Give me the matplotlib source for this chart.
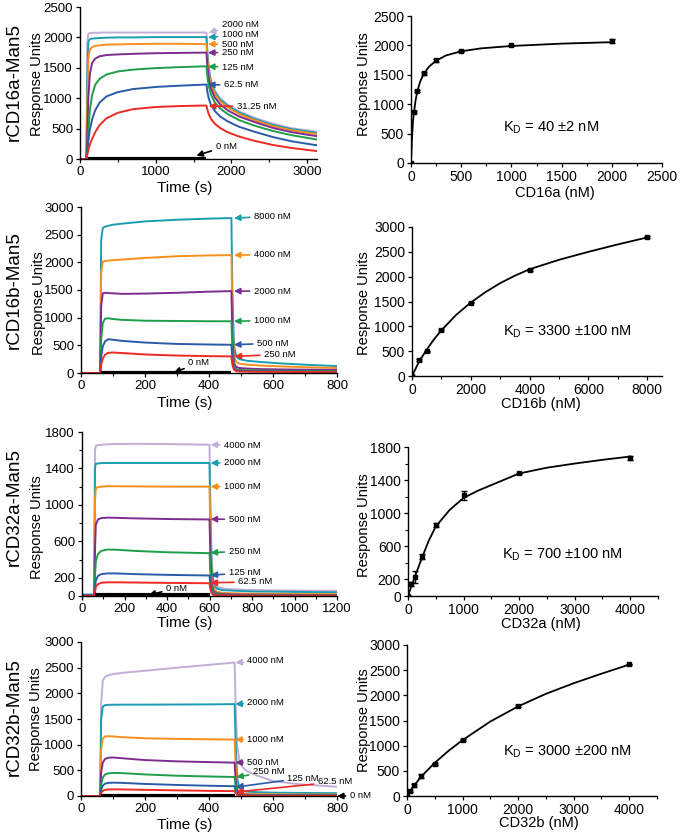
import matplotlib
matplotlib.use("Agg")
import matplotlib.pyplot as plt
from matplotlib.ticker import MultipleLocator, FixedLocator

plt.rcParams['font.family'] = ['Liberation Sans', 'DejaVu Sans']

# colours by rising concentration (Excel-like palette)
red, blue, green, purple = '#EE2A24', '#2B5BA8', '#1E9E4A', '#7E2C8E'
orange, teal, lavender = '#F7901E', '#1A9DB0', '#C2AED6'

# ---------------- rCD16a-Man5 sensorgram ----------------
cd16a_time = [0, 85, 95, 110, 130, 160, 200, 260, 350, 500, 700, 1000, 1300, 1670,
              1680, 1700, 1730, 1780, 1850, 1950, 2100, 2300, 2550, 2800, 3130]
cd16a_labels = ['2000 nM', '1000 nM', '500 nM', '250 nM', '125 nM', '62.5 nM', '31.25 nM']
cd16a_colors = [lavender, teal, orange, purple, green, blue, red]
cd16a_ru = [
    [0, 0, 1900, 2060, 2070, 2075, 2075, 2078, 2080, 2080, 2080, 2080, 2080, 2080,
     1830, 1520, 1300, 1130, 1000, 895, 785, 680, 580, 505, 450],
    [0, 0, 1300, 1930, 1970, 1980, 1985, 1990, 1995, 2000, 2000, 2005, 2005, 2005,
     1770, 1480, 1270, 1100, 980, 875, 765, 660, 560, 490, 430],
    [0, 0, 800, 1650, 1800, 1840, 1860, 1870, 1880, 1885, 1890, 1895, 1895, 1890,
     1680, 1420, 1230, 1070, 950, 850, 740, 640, 540, 470, 410],
    [0, 0, 350, 1000, 1400, 1580, 1650, 1690, 1710, 1720, 1730, 1740, 1745, 1750,
     1560, 1330, 1160, 1010, 900, 800, 700, 610, 510, 440, 375],
    [0, 0, 150, 450, 800, 1050, 1220, 1320, 1390, 1440, 1470, 1495, 1510, 1525,
     1380, 1200, 1060, 930, 830, 740, 640, 550, 460, 390, 320],
    [0, 0, 120, 300, 480, 650, 800, 930, 1030, 1100, 1150, 1185, 1205, 1225,
     1120, 1000, 890, 790, 700, 620, 530, 450, 360, 290, 225],
    [0, 0, 60, 150, 240, 330, 440, 560, 670, 760, 820, 855, 870, 880,
     820, 740, 660, 580, 510, 440, 370, 300, 230, 180, 130],
]
cd16a_head = [(1700, 2080), (1690, 2000), (1690, 1890), (1690, 1750), (1690, 1520), (1690, 1220), (1700, 870)]
cd16a_text = [(1870, 2215), (1870, 2040), (1870, 1885), (1870, 1750), (1870, 1510), (1900, 1220), (2070, 865)]
cd16a_zero = [(110, 0), (1670, 0)]
cd16a_zero_head, cd16a_zero_text = (1537, 55), (1790, 210)

# ---------------- rCD16b-Man5 sensorgram ----------------
cd16b_time = [0, 60, 63, 68, 75, 85, 100, 130, 200, 300, 400, 470,
              473, 478, 485, 495, 520, 560, 620, 700, 800]
cd16b_labels = ['8000 nM', '4000 nM', '2000 nM', '1000 nM', '500 nM', '250 nM']
cd16b_colors = [teal, orange, purple, green, blue, red]
cd16b_ru = [
    [0, 0, 2400, 2620, 2645, 2660, 2680, 2700, 2740, 2770, 2790, 2800,
     1500, 500, 300, 250, 220, 200, 175, 150, 125],
    [0, 0, 1800, 2010, 2025, 2030, 2040, 2050, 2080, 2110, 2125, 2130,
     1000, 300, 200, 170, 150, 135, 120, 105, 90],
    [0, 0, 1200, 1440, 1450, 1445, 1440, 1430, 1435, 1450, 1470, 1480,
     700, 180, 110, 90, 80, 70, 65, 60, 55],
    [0, 0, 600, 900, 980, 990, 975, 960, 945, 940, 935, 935,
     450, 110, 70, 55, 50, 45, 40, 38, 35],
    [0, 0, 300, 480, 570, 610, 600, 580, 550, 525, 515, 510,
     250, 80, 50, 40, 35, 30, 28, 25, 22],
    [0, 0, 150, 260, 330, 365, 370, 360, 335, 315, 305, 300,
     150, 60, 35, 28, 25, 22, 20, 18, 15],
]
cd16b_head = [(478, 2800), (478, 2130), (478, 1480), (478, 935), (478, 510), (480, 300)]
cd16b_text = [(540, 2830), (540, 2140), (540, 1480), (540, 950), (550, 540), (572, 337)]
cd16b_zero = [(63, 0), (470, 0)]
cd16b_zero_head, cd16b_zero_text = (290, 5), (335, 185)

# ---------------- rCD32a-Man5 sensorgram ----------------
cd32a_time = [0, 58, 61, 65, 75, 90, 120, 160, 250, 400, 600,
              603, 610, 620, 635, 660, 700, 800, 1000, 1200]
cd32a_labels = ['4000 nM', '2000 nM', '1000 nM', '500 nM', '250 nM', '125 nM', '62.5 nM']
cd32a_colors = [lavender, teal, orange, purple, green, blue, red]
cd32a_ru = [
    [15, 15, 1600, 1650, 1655, 1660, 1665, 1668, 1670, 1668, 1660,
     1200, 400, 150, 100, 85, 75, 65, 60, 55],
    [15, 15, 1400, 1450, 1455, 1458, 1460, 1460, 1460, 1460, 1460,
     1000, 300, 120, 80, 65, 60, 50, 45, 40],
    [10, 10, 1050, 1180, 1195, 1200, 1205, 1205, 1203, 1200, 1200,
     800, 200, 80, 45, 35, 30, 25, 22, 20],
    [10, 10, 500, 780, 840, 855, 860, 858, 852, 845, 840,
     550, 130, 50, 30, 22, 18, 15, 12, 10],
    [5, 5, 200, 380, 460, 495, 510, 508, 495, 480, 470,
     300, 80, 35, 20, 15, 12, 10, 8, 8],
    [5, 5, 80, 170, 220, 240, 248, 248, 240, 232, 225,
     150, 45, 20, 12, 10, 8, 6, 5, 5],
    [0, 0, 40, 100, 130, 145, 150, 150, 148, 144, 140,
     90, 30, 12, 8, 6, 5, 4, 3, 3],
]
cd32a_head = [(605, 1660), (605, 1460), (605, 1200), (605, 843), (605, 475), (605, 228), (605, 145)]
cd32a_text = [(668, 1655), (668, 1460), (668, 1205), (690, 843), (690, 493), (690, 255), (735, 155)]
cd32a_zero = [(60, 10), (600, 10)]
cd32a_zero_head, cd32a_zero_text = (314, 11), (395, 84)

# ---------------- rCD32b-Man5 sensorgram ----------------
cd32b_time = [0, 60, 63, 68, 75, 85, 100, 130, 200, 300, 400, 480,
              483, 488, 495, 505, 520, 550, 600, 680, 800]
cd32b_labels = ['4000 nM', '2000 nM', '1000 nM', '500 nM', '250 nM', '125 nM', '62.5 nM']
cd32b_colors = [lavender, teal, orange, purple, green, blue, red]
cd32b_ru = [
    [0, 0, 1800, 2250, 2320, 2350, 2375, 2400, 2440, 2500, 2555, 2600,
     1800, 1000, 700, 560, 480, 400, 290, 230, 180],
    [0, 0, 1500, 1740, 1770, 1775, 1778, 1780, 1780, 1782, 1785, 1790,
     1100, 350, 150, 100, 85, 75, 65, 60, 55],
    [0, 0, 900, 1120, 1160, 1165, 1160, 1145, 1125, 1112, 1105, 1100,
     600, 150, 60, 45, 40, 35, 32, 30, 28],
    [0, 0, 450, 650, 720, 745, 750, 735, 700, 675, 660, 650,
     350, 80, 40, 30, 25, 22, 20, 18, 16],
    [0, 0, 220, 360, 420, 440, 450, 445, 420, 395, 380, 370,
     200, 60, 30, 22, 18, 15, 13, 12, 10],
    [0, 0, 120, 200, 240, 255, 260, 255, 235, 215, 200, 190,
     110, 40, 20, 15, 12, 10, 9, 8, 7],
    [0, 0, 60, 100, 120, 128, 130, 128, 120, 110, 100, 95,
     60, 25, 12, 9, 8, 6, 5, 5, 4],
]
cd32b_head = [(482, 2600), (482, 1790), (482, 1100), (482, 650), (485, 370), (485, 175), (485, 78)]
cd32b_text = [(520, 2630), (520, 1812), (520, 1097), (520, 662), (537, 468), (645, 350), (740, 273)]
cd32b_zero = [(63, 5), (480, 5)]
cd32b_zero_head, cd32b_zero_text = (800, 0), (840, 0)

# ---------------- steady-state binding ----------------
cd16a_conc = [0, 31.25, 62.5, 125, 250, 500, 1000, 2000]
cd16a_req = [0, 870, 1220, 1525, 1745, 1900, 2000, 2075]
cd16a_err = [0, 20, 15, 20, 25, 20, 15, 35]
cd16a_fit_x = [0, 10, 20, 31.25, 45, 62.5, 90, 125, 180, 250, 350, 500, 700, 1000, 1500, 2000]
cd16a_fit_y = [0, 420, 720, 880, 1060, 1215, 1380, 1510, 1640, 1740, 1830, 1900, 1950, 1990, 2030, 2055]

cd16b_conc = [0, 250, 500, 1000, 2000, 4000, 8000]
cd16b_req = [0, 320, 500, 930, 1475, 2135, 2800]
cd16b_err = [0, 20, 10, 15, 15, 20, 15]
cd16b_fit_x = [0, 250, 500, 750, 1000, 1500, 2000, 2500, 3000, 3500, 4000, 5000, 6000, 7000, 8000]
cd16b_fit_y = [0, 300, 530, 740, 920, 1230, 1480, 1690, 1870, 2020, 2150, 2340, 2500, 2650, 2790]

cd32a_conc = [0, 62.5, 125, 250, 500, 1000, 2000, 4000]
cd32a_req = [0, 145, 230, 477, 858, 1215, 1480, 1672]
cd32a_err = [0, 25, 70, 35, 25, 55, 10, 25]
cd32a_fit_x = [0, 62.5, 125, 250, 375, 500, 750, 1000, 1250, 1500, 2000, 2500, 3000, 3500, 4000]
cd32a_fit_y = [0, 120, 235, 460, 670, 840, 1040, 1185, 1270, 1340, 1480, 1550, 1600, 1645, 1685]

cd32b_conc = [0, 62.5, 125, 250, 500, 1000, 2000, 4000]
cd32b_req = [0, 100, 210, 400, 645, 1110, 1790, 2615]
cd32b_err = [0, 20, 30, 45, 20, 20, 25, 15]
cd32b_fit_x = [0, 125, 250, 500, 750, 1000, 1500, 2000, 2500, 3000, 3500, 4000]
cd32b_fit_y = [0, 200, 380, 660, 900, 1110, 1480, 1780, 2030, 2240, 2430, 2610]

row_names = ['rCD16a-Man5', 'rCD16b-Man5', 'rCD32a-Man5', 'rCD32b-Man5']
kd_texts = ['40 ±2 nM', '3300 ±100 nM', '700 ±100 nM', '3000 ±200 nM']
x_names = ['CD16a (nM)', 'CD16b (nM)', 'CD32a (nM)', 'CD32b (nM)']

W, H = 683, 833
fig = plt.figure(figsize=(W / 100, H / 100), dpi=100)


def px_axes(l, r, t, b):
    return fig.add_axes([l / W, 1 - b / H, (r - l) / W, (b - t) / H])


def style(ax, size):
    for s in ['top', 'right']:
        ax.spines[s].set_visible(False)
    for s in ['left', 'bottom']:
        ax.spines[s].set_linewidth(1.0)
    ax.tick_params(which='major', direction='out', length=3, width=0.9, labelsize=size, pad=2)
    ax.tick_params(which='minor', direction='out', length=2, width=0.8)


def sensorgram(ax, t, curves, colors, labels, heads, texts, zero, zhead, ztext):
    for ru, c in zip(curves, colors):
        ax.plot(t, ru, color=c, lw=1.4, solid_joinstyle='round')
    ax.plot([p[0] for p in zero], [p[1] for p in zero], color='black', lw=3, solid_capstyle='butt')
    for lab, c, h, tx in zip(labels, colors, heads, texts):
        ax.annotate(lab, xy=h, xytext=tx, fontsize=6.8, va='center', ha='left',
                    annotation_clip=False,
                    arrowprops=dict(arrowstyle='-|>', color=c, lw=1.2, mutation_scale=9,
                                    shrinkA=1, shrinkB=0))
    ax.annotate('0 nM', xy=zhead, xytext=ztext, fontsize=6.8, va='center', ha='left',
                annotation_clip=False,
                arrowprops=dict(arrowstyle='-|>', color='black', lw=1.2, mutation_scale=9,
                                shrinkA=1, shrinkB=0))


def binding(ax, x, y, err, fx, fy):
    ax.plot(fx, fy, color='black', lw=1.3)
    ax.errorbar(x, y, yerr=err, fmt='s', color='black', ms=2.5, capsize=2, elinewidth=1, capthick=1)


# left column
left_boxes = [(80, 317, 7, 159), (81, 337, 207, 373), (82, 337, 432, 596), (81, 337, 642, 796)]
sens = [
    (cd16a_time, cd16a_ru, cd16a_colors, cd16a_labels, cd16a_head, cd16a_text, cd16a_zero, cd16a_zero_head, cd16a_zero_text),
    (cd16b_time, cd16b_ru, cd16b_colors, cd16b_labels, cd16b_head, cd16b_text, cd16b_zero, cd16b_zero_head, cd16b_zero_text),
    (cd32a_time, cd32a_ru, cd32a_colors, cd32a_labels, cd32a_head, cd32a_text, cd32a_zero, cd32a_zero_head, cd32a_zero_text),
    (cd32b_time, cd32b_ru, cd32b_colors, cd32b_labels, cd32b_head, cd32b_text, cd32b_zero, cd32b_zero_head, cd32b_zero_text),
]
left_xlim = [3130, 800, 1200, 800]
left_ylim = [2500, 3000, 1800, 3000]
left_xmaj = [1000, 200, 200, 200]
left_xmin = [500, 100, 100, 100]
left_ylab = [(-0.152, 0.49), (-0.137, 0.42), (-0.149, 0.42), (-0.148, 0.5)]
left_xlab = [(0.443, -0.145), (0.406, -0.14), (0.404, -0.125), (0.406, -0.143)]
row_y = [82, 290, 507, 717]

for i, box in enumerate(left_boxes):
    ax = px_axes(*box)
    style(ax, 9.5)
    sensorgram(ax, *sens[i])
    ax.set_xlim(0, left_xlim[i])
    ax.set_ylim(0, left_ylim[i])
    ax.xaxis.set_major_locator(MultipleLocator(left_xmaj[i]))
    ax.xaxis.set_minor_locator(MultipleLocator(left_xmin[i]))
    if left_ylim[i] == 1800:
        ax.yaxis.set_major_locator(FixedLocator([0, 200, 600, 1000, 1400, 1800]))
        ax.yaxis.set_minor_locator(FixedLocator([400, 800, 1200, 1600]))
    else:
        ax.yaxis.set_major_locator(MultipleLocator(500))
    ax.set_ylabel('Response Units', fontsize=10.5)
    ax.yaxis.set_label_coords(*left_ylab[i])
    ax.set_xlabel('Time (s)', fontsize=11)
    ax.xaxis.set_label_coords(*left_xlab[i])
    fig.text(14 / W, 1 - row_y[i] / H, row_names[i], rotation=90, fontsize=13.5,
             ha='center', va='center')

# right column
right_boxes = [(411, 662, 16, 163), (412, 662, 227, 376), (408, 658, 447, 596), (407, 657, 645, 796)]
bind = [
    (cd16a_conc, cd16a_req, cd16a_err, cd16a_fit_x, cd16a_fit_y),
    (cd16b_conc, cd16b_req, cd16b_err, cd16b_fit_x, cd16b_fit_y),
    (cd32a_conc, cd32a_req, cd32a_err, cd32a_fit_x, cd32a_fit_y),
    (cd32b_conc, cd32b_req, cd32b_err, cd32b_fit_x, cd32b_fit_y),
]
right_xlim = [2500, 8500, 4500, 4500]
right_ylim = [2500, 3000, 1800, 3000]
right_xmaj = [500, 2000, 1000, 1000]
right_xmin = [250, 1000, 500, 500]
kd_pos = [(916, 595), (3098, 885), (1696, 495), (1730, 875)]
right_ylab = [(-0.159, 0.537), (-0.164, 0.49), (-0.148, 0.476), (-0.144, 0.503)]
right_xlab = [(0.574, -0.156), (0.516, -0.142), (0.532, -0.14), (0.528, -0.132)]

for i, box in enumerate(right_boxes):
    ax = px_axes(*box)
    style(ax, 10)
    binding(ax, *bind[i])
    ax.set_xlim(0, right_xlim[i])
    ax.set_ylim(0, right_ylim[i])
    ax.xaxis.set_major_locator(MultipleLocator(right_xmaj[i]))
    ax.xaxis.set_minor_locator(MultipleLocator(right_xmin[i]))
    if right_ylim[i] == 1800:
        ax.yaxis.set_major_locator(FixedLocator([0, 200, 600, 1000, 1400, 1800]))
        ax.yaxis.set_minor_locator(FixedLocator([400, 800, 1200, 1600]))
    else:
        ax.yaxis.set_major_locator(MultipleLocator(500))
    ax.text(kd_pos[i][0], kd_pos[i][1], r'K$_\mathregular{D}$ = ' + kd_texts[i],
            fontsize=10.5, ha='left', va='center')
    ax.set_ylabel('Response Units', fontsize=10.5)
    ax.yaxis.set_label_coords(*right_ylab[i])
    ax.set_xlabel(x_names[i], fontsize=10.5)
    ax.xaxis.set_label_coords(*right_xlab[i])

fig.savefig('out.png', dpi=100)
